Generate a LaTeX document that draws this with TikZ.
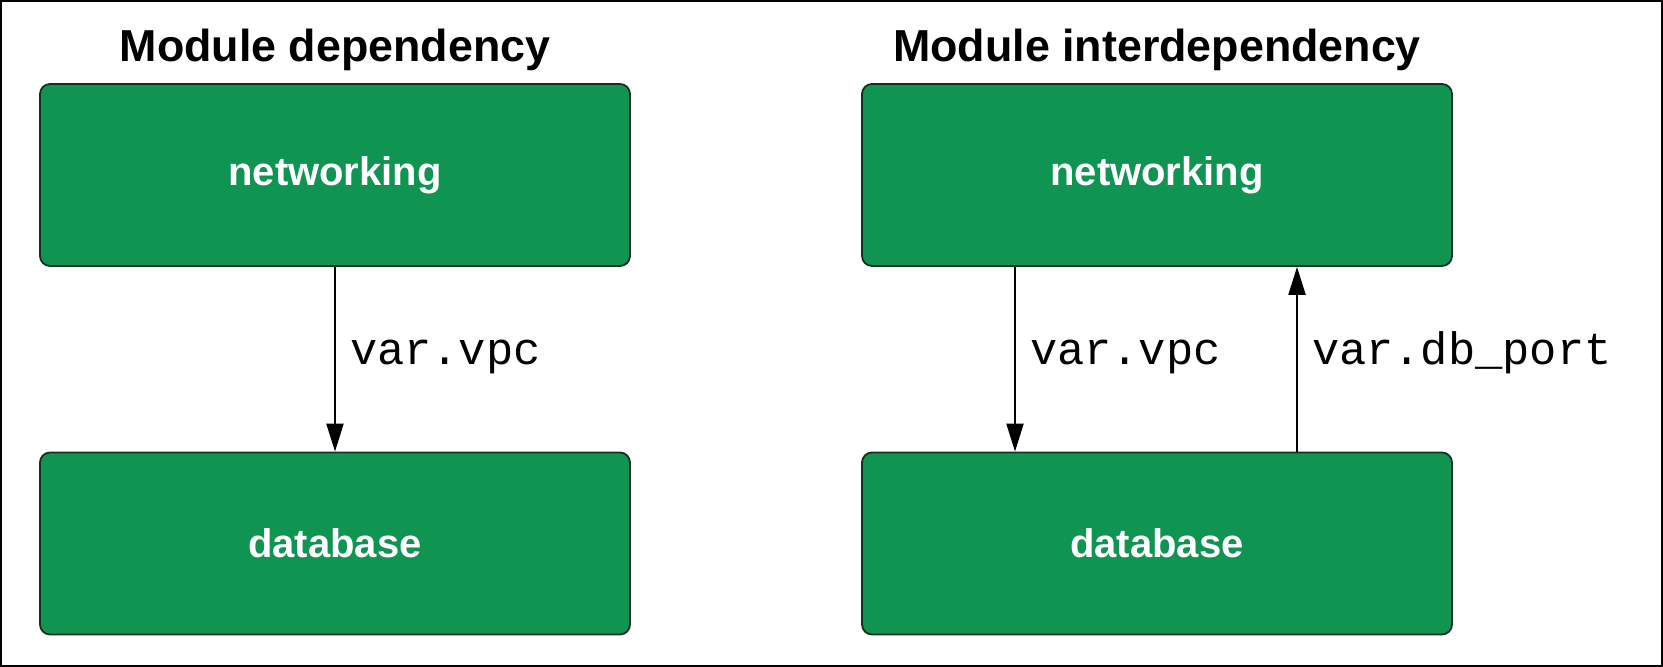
\documentclass[tikz,border=0pt]{standalone}
\usepackage{fontspec}
\setmainfont{Liberation Sans}
\setmonofont{Liberation Mono}
\usetikzlibrary{arrows.meta}
\definecolor{boxgreen}{RGB}{16,148,82}
\definecolor{boxedge}{RGB}{22,48,32}
\begin{document}
\begin{tikzpicture}[
    x=0.5pt, y=0.5pt,
    every edge/.style={draw, line width=1pt, -{Triangle[length=14pt, width=8.5pt]}},
    module/.style={draw=boxedge, fill=boxgreen, rounded corners=5pt, line width=0.9pt, minimum width=295pt, minimum height=91pt, text=white, font=\fontsize{20}{24}\selectfont\bfseries},
    heading/.style={font=\fontsize{22.4}{26}\selectfont\bfseries, anchor=base},
    varlabel/.style={font=\fontsize{22.7}{26}\selectfont\ttfamily, anchor=base west, inner xsep=7pt, yshift=-2.5pt}
    ]
    \useasboundingbox (0,0) rectangle (1663,667);
    \draw[line width=1pt] (1,1) rectangle (1662,666);

    \node[heading] (titleL) at (335, 605) {Module dependency};
    \node[module] (netL) at (335, 492) {networking};
    \node[module] (dbL) at (335, 123.5) {database};

    \path (netL) edge node[varlabel] (vpcL) {var.vpc} (dbL);


    \node[heading] (titleR) at (1157, 605) {Module interdependency};
    \node[module] (netR) at (1157, 492) {networking};
    \node[module] (dbR) at (1157, 123.5) {database};

    \path ([xshift=-71pt]netR.south) edge node[varlabel] (vpcR) {var.vpc} ([xshift=-71pt]dbR.north);
    \path ([xshift=70pt]dbR.north) edge node[varlabel] (portR) {var.db\_port} ([xshift=70pt]netR.south);

  \end{tikzpicture}
\end{document}
